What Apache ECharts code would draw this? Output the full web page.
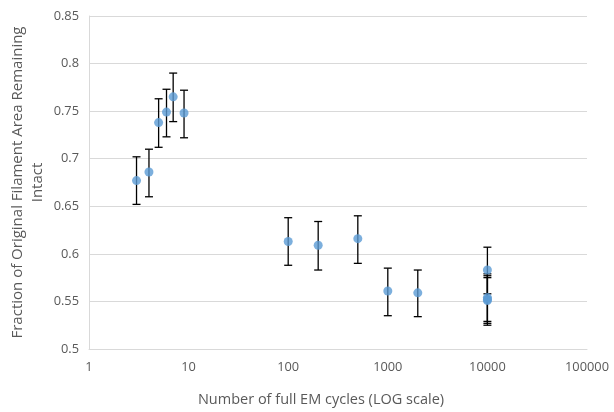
<!DOCTYPE html>
<html><head><meta charset="utf-8">
<script src="https://cdn.jsdelivr.net/npm/echarts@6/dist/echarts.min.js"></script>
<style>html,body{margin:0;padding:0;background:#fff}#c{width:614px;height:412px}</style>
</head><body><div id="c"></div>
<script>
var cycles = [3, 4, 5, 6, 7, 9, 100, 200, 500, 1000, 2000, 10000, 10000, 10000, 10000];
var fraction = [0.677, 0.686, 0.738, 0.749, 0.765, 0.748, 0.613, 0.609, 0.616, 0.561, 0.559, 0.583, 0.554, 0.552, 0.551];
var errLow = [0.652, 0.660, 0.712, 0.723, 0.739, 0.722, 0.588, 0.583, 0.590, 0.535, 0.534, 0.558, 0.529, 0.527, 0.525];
var errHigh = [0.702, 0.710, 0.763, 0.773, 0.790, 0.772, 0.638, 0.634, 0.640, 0.585, 0.583, 0.607, 0.579, 0.577, 0.575];
var yTicks = [0.5, 0.55, 0.6, 0.65, 0.7, 0.75, 0.8, 0.85];

var pts = cycles.map(function(c, i){ return [c, fraction[i]]; });
var errs = cycles.map(function(c, i){ return [c, errLow[i], errHigh[i]]; });
var font = '"Open Sans", "Liberation Sans", sans-serif';
var chart = echarts.init(document.getElementById('c'));
chart.setOption({
  animation: false,
  grid: {left: 89, right: 27, top: 16, bottom: 63, containLabel: false, outerBoundsMode: 'none'},
  xAxis: {
    type: 'log', logBase: 10, min: 1, max: 100000,
    name: 'Number of full EM cycles (LOG scale)', nameLocation: 'middle', nameGap: 43, nameMoveOverlap: false,
    nameTextStyle: {color: '#595959', fontSize: 14.5, fontFamily: font, padding: [0, 34, 0, 0]},
    axisLine: {lineStyle: {color: '#d9d9d9'}},
    axisTick: {show: false},
    splitLine: {show: false},
    minorTick: {show: false},
    axisLabel: {color: '#595959', fontSize: 12.8, fontFamily: font, margin: 12,
      formatter: function(v){ return String(Math.round(v)); }}
  },
  yAxis: {
    type: 'value', min: 0.5, max: 0.85, interval: 0.05,
    name: 'Fraction of Original Filament Area Remaining\nIntact', nameLocation: 'middle', nameGap: 61, nameMoveOverlap: false,
    nameTextStyle: {color: '#595959', fontSize: 15, fontFamily: font, lineHeight: 20, align: 'center', verticalAlign: 'middle'},
    axisLine: {show: true, lineStyle: {color: '#d9d9d9'}},
    axisTick: {show: false},
    splitLine: {lineStyle: {color: '#d9d9d9'}},
    axisLabel: {color: '#595959', fontSize: 12.8, fontFamily: font, margin: 10,
      formatter: function(v){ var t = yTicks.find(function(y){return Math.abs(y-v)<1e-9;}); return t === undefined ? '' : String(t); }}
  },
  series: [
    {
      type: 'custom', data: errs, z: 2,
      renderItem: function(params, api){
        var x = api.value(0);
        var lo = api.coord([x, api.value(1)]);
        var hi = api.coord([x, api.value(2)]);
        var w = 4;
        var st = {stroke: '#000', lineWidth: 1.3};
        return {type: 'group', children: [
          {type: 'line', shape: {x1: lo[0], y1: lo[1], x2: hi[0], y2: hi[1]}, style: st},
          {type: 'line', shape: {x1: lo[0]-w, y1: lo[1], x2: lo[0]+w, y2: lo[1]}, style: st},
          {type: 'line', shape: {x1: hi[0]-w, y1: hi[1], x2: hi[0]+w, y2: hi[1]}, style: st}
        ]};
      }
    },
    {
      type: 'scatter', data: pts, symbol: 'circle', symbolSize: 9, z: 3,
      itemStyle: {color: '#5b9bd5'}
    }
  ]
});
</script></body></html>
